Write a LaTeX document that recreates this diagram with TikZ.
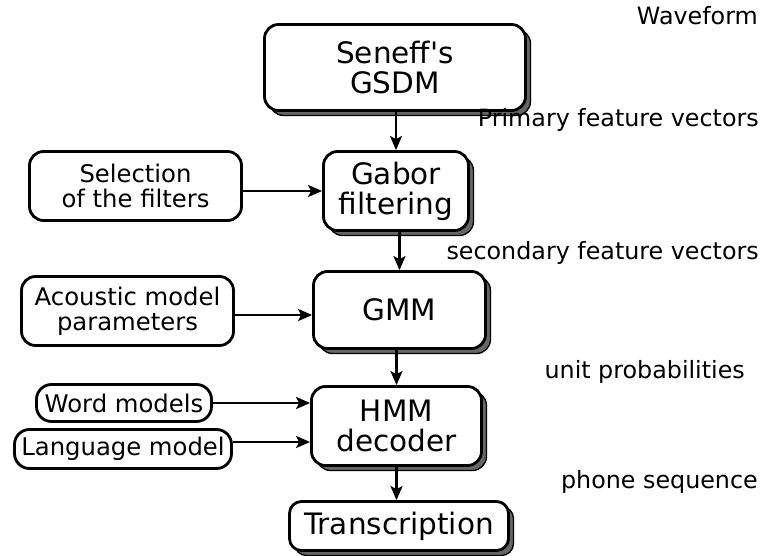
\documentclass[tikz,border=0pt]{standalone}
\usepackage{fontspec}
\setmainfont{DejaVu Sans}[Ligatures=TeXOff]
\usetikzlibrary{shadows,arrows.meta}
\begin{document}
\begin{tikzpicture}[x=1pt,y=-1pt,
  mainbox/.style={draw=black, line width=2.8pt, fill=white, rounded corners=14pt,
    inner sep=0pt, align=center,
    font=\fontsize{29.5pt}{30pt}\selectfont,
    drop shadow={shadow xshift=5pt, shadow yshift=-5pt, fill=black!60, draw=black, line width=1.3pt, opacity=1}},
  sidebox/.style={draw=black, line width=2.8pt, fill=white, rounded corners=14pt,
    inner sep=0pt, align=center,
    font=\fontsize{24.3pt}{25pt}\selectfont},
  lbl/.style={anchor=base east, inner sep=0pt, font=\fontsize{23.8pt}{25pt}\selectfont},
  arr/.style={line width=2.3pt, -{Stealth[length=14pt,width=12pt,inset=3pt]}}
]
\useasboundingbox (0,0) rectangle (764,556);

% main chain
\node[mainbox, minimum width=261pt, minimum height=86pt] (gsdm) at (395,67.5) {Seneff's\\GSDM};
\node[mainbox, minimum width=145pt, minimum height=79pt] (gabor) at (396,191) {Gabor\\filtering};
\node[mainbox, minimum width=172pt, minimum height=77pt] (gmm) at (399.5,310) {GMM};
\node[mainbox, minimum width=170pt, minimum height=79pt] (hmm) at (396.5,426) {HMM\\decoder};
\node[mainbox, minimum width=219pt, minimum height=49pt, rounded corners=12pt] (trans) at (399,526) {Transcription};

% side inputs
\node[sidebox, minimum width=212pt, minimum height=69pt] (sel) at (135.5,186) {Selection\\of the filters};
\node[sidebox, minimum width=212pt, minimum height=69pt] (ac) at (127.5,311) {Acoustic model\\parameters};
\node[sidebox, minimum width=175pt, minimum height=37pt, rounded corners=15pt] (word) at (124,403) {Word models};
\node[sidebox, minimum width=217pt, minimum height=39pt, rounded corners=15pt] (lang) at (123,449) {Language model};

% labels
\node[lbl] (lwave) at (758,25) {Waveform};
\node[lbl] (lprim) at (759,127) {Primary feature vectors};
\node[lbl] (lsec) at (759,260) {secondary feature vectors};
\node[lbl] (lunit) at (745,378) {unit probabilities};
\node[lbl] (lphone) at (758,488) {phone sequence};

% vertical arrows
\draw[arr] (gsdm.south -| gabor) -- (gabor.north);
\draw[arr] (gabor.south -| gmm) -- (gmm.north);
\draw[arr] (gmm.south -| hmm) -- (hmm.north);
\draw[arr] (hmm.south) -- (hmm.south |- trans.north);

% horizontal arrows
\draw[arr] (sel.east |- gabor) -- (gabor.west);
\draw[arr] ([yshift=-4pt]ac.east) -- ([yshift=-4pt]ac.east -| gmm.west);
\draw[arr] (word.east) -- (word.east -| hmm.west);
\draw[arr] ([yshift=7pt]lang.east) -- ([yshift=7pt]lang.east -| hmm.west);
\end{tikzpicture}
\end{document}
